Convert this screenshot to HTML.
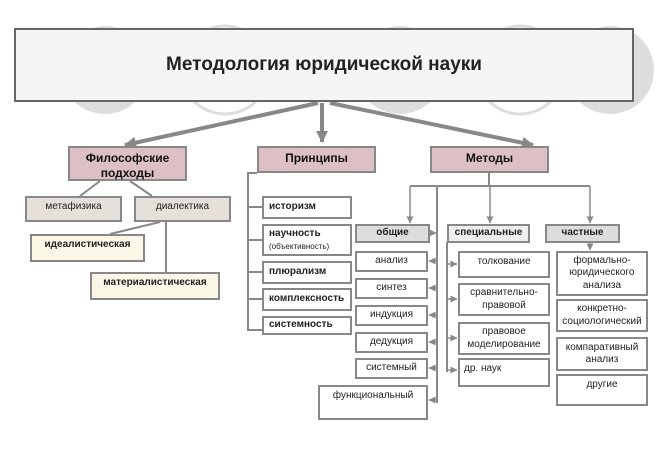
<!DOCTYPE html><html><head><meta charset="utf-8"><style>
body{margin:0;width:660px;height:454px;background:#fff;overflow:hidden;font-family:"Liberation Sans",sans-serif}
.b{position:absolute;box-sizing:border-box;border:2px solid #888;background:#fff;text-align:center;font-size:10px;color:#222;display:flex;align-items:center;justify-content:center;line-height:1.25}
.p{background:#dcc0c3;font-weight:bold;font-size:12px;color:#111;align-items:flex-start;padding-top:3px}
.g{background:#e6e0da;align-items:flex-start;padding-top:3px}
.y{background:#fbf7e6;align-items:flex-start;padding-top:3px}
.k{background:#ddd;font-weight:bold}
.l{justify-content:flex-start;padding-left:5px;font-weight:bold}
</style></head><body>
<svg width="660" height="454" style="position:absolute;left:0;top:0">
<defs><marker id="a" markerUnits="userSpaceOnUse" markerWidth="12" markerHeight="12" refX="11" refY="6" orient="auto"><path d="M0,0L12,6L0,12z" fill="#888"/></marker>
<marker id="s" markerUnits="userSpaceOnUse" markerWidth="7" markerHeight="7" refX="6.5" refY="3.5" orient="auto"><path d="M0,0L7,3.5L0,7z" fill="#888"/></marker></defs>
<g fill="#ddd"><circle cx="105" cy="70" r="44"/><circle cx="400" cy="70" r="44"/><circle cx="610" cy="70" r="44"/></g>
<g fill="none" stroke="#ddd" stroke-width="3"><circle cx="225" cy="70" r="44"/><circle cx="520" cy="70" r="44"/></g>
<g stroke="#888" stroke-width="4" marker-end="url(#a)"><line x1="318" y1="103" x2="125" y2="145"/><line x1="322" y1="103" x2="322" y2="142"/><line x1="330" y1="103" x2="533" y2="145"/></g>
<g stroke="#888" stroke-width="2" fill="none">
<line x1="100" y1="181" x2="80" y2="196"/><line x1="130" y1="181" x2="152" y2="196"/>
<line x1="160" y1="222" x2="110" y2="234"/><line x1="166" y1="222" x2="166" y2="272"/>
<polyline points="257,173 248,173 248,330 262,330"/>
<line x1="248" y1="207" x2="262" y2="207"/><line x1="248" y1="240" x2="262" y2="240"/><line x1="248" y1="272" x2="262" y2="272"/><line x1="248" y1="299" x2="262" y2="299"/>
<line x1="489" y1="172" x2="489" y2="186"/><line x1="410" y1="186" x2="590" y2="186"/>
<line x1="437" y1="186" x2="437" y2="403"/>
<line x1="447" y1="242" x2="447" y2="372"/>
</g>
<g stroke="#888" stroke-width="1.5" marker-end="url(#s)">
<line x1="410" y1="186" x2="410" y2="223"/><line x1="490" y1="186" x2="490" y2="223"/><line x1="590" y1="186" x2="590" y2="223"/>
<line x1="430" y1="233" x2="436" y2="233"/>
<line x1="437" y1="261" x2="429" y2="261"/><line x1="437" y1="288" x2="429" y2="288"/><line x1="437" y1="315" x2="429" y2="315"/><line x1="437" y1="342" x2="429" y2="342"/><line x1="437" y1="368" x2="429" y2="368"/><line x1="437" y1="400" x2="429" y2="400"/>
<line x1="447" y1="264" x2="457" y2="264"/><line x1="447" y1="299" x2="457" y2="299"/><line x1="447" y1="338" x2="457" y2="338"/><line x1="447" y1="370" x2="457" y2="370"/>
<line x1="590" y1="242" x2="590" y2="250"/>
</g>
</svg>
<div class="b" style="left:14px;top:28px;width:620px;height:74px;background:#f5f5f5;border-color:#666;font-size:19px;font-weight:bold;color:#222">Методология юридической науки</div>
<div class="b p" style="left:68px;top:146px;width:119px;height:35px">Философские<br>подходы</div>
<div class="b p" style="left:257px;top:146px;width:119px;height:27px">Принципы</div>
<div class="b p" style="left:430px;top:146px;width:119px;height:27px">Методы</div>
<div class="b g" style="left:25px;top:196px;width:97px;height:26px">метафизика</div>
<div class="b g" style="left:134px;top:196px;width:97px;height:26px">диалектика</div>
<div class="b y" style="left:30px;top:234px;width:115px;height:28px;font-weight:bold">идеалистическая</div>
<div class="b y" style="left:90px;top:272px;width:130px;height:28px;font-weight:bold">материалистическая</div>
<div class="b l" style="left:262px;top:196px;width:90px;height:23px">историзм</div>
<div class="b l" style="left:262px;top:224px;width:90px;height:32px;display:block;text-align:left;padding-top:2px">научность<br><span style="font-weight:normal;font-size:8px">(объективность)</span></div>
<div class="b l" style="left:262px;top:261px;width:90px;height:23px">плюрализм</div>
<div class="b l" style="left:262px;top:288px;width:90px;height:23px">комплексность</div>
<div class="b l" style="left:262px;top:316px;width:90px;height:19px">системность</div>
<div class="b k" style="left:355px;top:224px;width:75px;height:19px">общие</div>
<div class="b k" style="left:447px;top:224px;width:83px;height:19px;background:#eee">специальные</div>
<div class="b k" style="left:545px;top:224px;width:75px;height:19px">частные</div>
<div class="b" style="left:355px;top:251px;width:73px;height:21px">анализ</div>
<div class="b" style="left:355px;top:278px;width:73px;height:21px">синтез</div>
<div class="b" style="left:355px;top:305px;width:73px;height:21px">индукция</div>
<div class="b" style="left:355px;top:332px;width:73px;height:21px">дедукция</div>
<div class="b" style="left:355px;top:358px;width:73px;height:21px">системный</div>
<div class="b" style="left:318px;top:385px;width:110px;height:35px;align-items:flex-start;padding-top:3px">функциональный</div>
<div class="b" style="left:458px;top:251px;width:92px;height:27px;align-items:flex-start;padding-top:3px">толкование</div>
<div class="b" style="left:458px;top:283px;width:92px;height:33px">сравнительно-<br>правовой</div>
<div class="b" style="left:458px;top:322px;width:92px;height:33px">правовое<br>моделирование</div>
<div class="b" style="left:458px;top:358px;width:92px;height:29px;justify-content:flex-start;align-items:flex-start;padding:3px 4px">др. наук</div>
<div class="b" style="left:556px;top:251px;width:92px;height:45px">формально-<br>юридического<br>анализа</div>
<div class="b" style="left:556px;top:299px;width:92px;height:33px">конкретно-<br>социологический</div>
<div class="b" style="left:556px;top:337px;width:92px;height:34px">компаративный<br>анализ</div>
<div class="b" style="left:556px;top:374px;width:92px;height:32px;align-items:flex-start;padding-top:3px">другие</div>
</body></html>
